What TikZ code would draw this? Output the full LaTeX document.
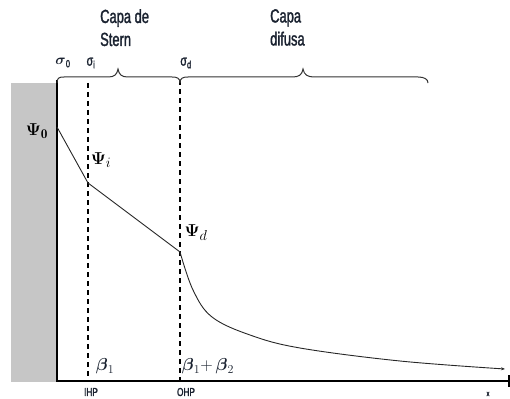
\documentclass[tikz,border=0pt]{standalone}
\usepackage{fontspec}
\usepackage{amsmath}
\newfontfamily\narrowfont[FakeStretch=0.68,FakeBold=1.6]{Liberation Sans}
\newfontfamily\narrowb[FakeStretch=0.72,FakeBold=1.5]{Liberation Sans}
\usetikzlibrary{arrows.meta}
\definecolor{txt}{HTML}{1A2230}
\begin{document}
\begin{tikzpicture}[x=1pt,y=-1pt,
  capa/.style={font=\narrowfont\fontsize{19}{23}\selectfont, text=txt, align=left, inner sep=0pt, anchor=north west},
  sig/.style={font=\narrowb\fontsize{15}{16}\selectfont, text=txt, inner sep=0pt},
  lab/.style={font=\narrowb\fontsize{11.5}{12}\selectfont, text=txt, inner sep=0pt},
  psi/.style={font=\fontsize{19}{20}\selectfont, text=black, inner sep=0pt},
  bet/.style={font=\fontsize{18}{19}\selectfont, text=txt, inner sep=0pt},
  axis/.style={line width=1.4pt, black},
  planeline/.style={line width=1.5pt, dash pattern=on 5pt off 4pt, black},
  potline/.style={line width=0.9pt, black!85},
  bracepath/.style={line width=1pt, black!80}]
\useasboundingbox (0,0) rectangle (510,398);
% wall
\fill[gray!45] (11,83) rectangle (57,382);
% coordinates
\coordinate (top0) at (57,80);
\coordinate (orig) at (57,381);
\coordinate (xend) at (509,381);
\coordinate (ihpT) at (88,83);
\coordinate (ihpB) at (88,380);
\coordinate (ohpT) at (180,80);
\coordinate (ohpB) at (180,380);
\coordinate (p0) at (57,127);
\coordinate (pi) at (88,183);
\coordinate (pd) at (180,252);
% axes
\draw[axis] (top0) -- (orig) -- (xend);
\draw[line width=1.2pt] (509,375) -- (509,387);
% dashed planes
\draw[planeline] (ihpT) -- (ihpB);
\draw[planeline] (ohpT) -- (ohpB);
% braces
\draw[bracepath] (57,83) .. controls (57,78) and (59,77) .. (64,77) -- (108,77)
  .. controls (114,77) and (117,75) .. (118,69)
  .. controls (119,75) and (122,77) .. (128,77) -- (172,77)
  .. controls (177,77) and (180,78) .. (180,83);
\draw[bracepath] (180,83) .. controls (180,78) and (183,77) .. (188,77) -- (292,77)
  .. controls (299,77) and (302,75) .. (303,69)
  .. controls (304,75) and (308,77) .. (314,77) -- (418,77)
  .. controls (424,77) and (428,79) .. (428,83);
% potential curve
\draw[potline] (p0) -- (pi) -- (pd);
\draw[potline, -{Stealth[length=4pt,width=3pt]}] plot[smooth, tension=0.6] coordinates {(180,252) (193,290) (212,317) (250,335) (300,348) (400,361) (505,369)};
% labels
\node[capa] (stern) at (100,9) {Capa de\\Stern};
\node[capa] (difusa) at (270,9) {Capa\\difusa};
\node[sig] (s0) at (63,63) {$\boldsymbol{\sigma}$\textsubscript{0}};
\node[sig] (si) at (91,63) {σ\textsubscript{i}};
\node[sig] (sd) at (186,63) {σ\textsubscript{d}};
\node[psi] (Psi0) at (37,131) {$\boldsymbol{\Psi}_{\mathbf{0}}$};
\node[psi] (Psii) at (101,160) {$\boldsymbol{\Psi}_{i}$};
\node[psi] (Psid) at (196,233) {$\boldsymbol{\Psi}_{d}$};
\node[bet] (b1) at (105,366) {$\boldsymbol{\beta}_{1}$};
\node[bet] (b12) at (208,366) {$\boldsymbol{\beta}_{1}{+}\,\boldsymbol{\beta}_{2}$};
\node[lab] (ihp) at (91,392) {IHP};
\node[lab] (ohp) at (186,392) {OHP};
\node[lab, font=\narrowb\fontsize{8}{9}\selectfont] (xl) at (488,394) {x};
\end{tikzpicture}
\end{document}
